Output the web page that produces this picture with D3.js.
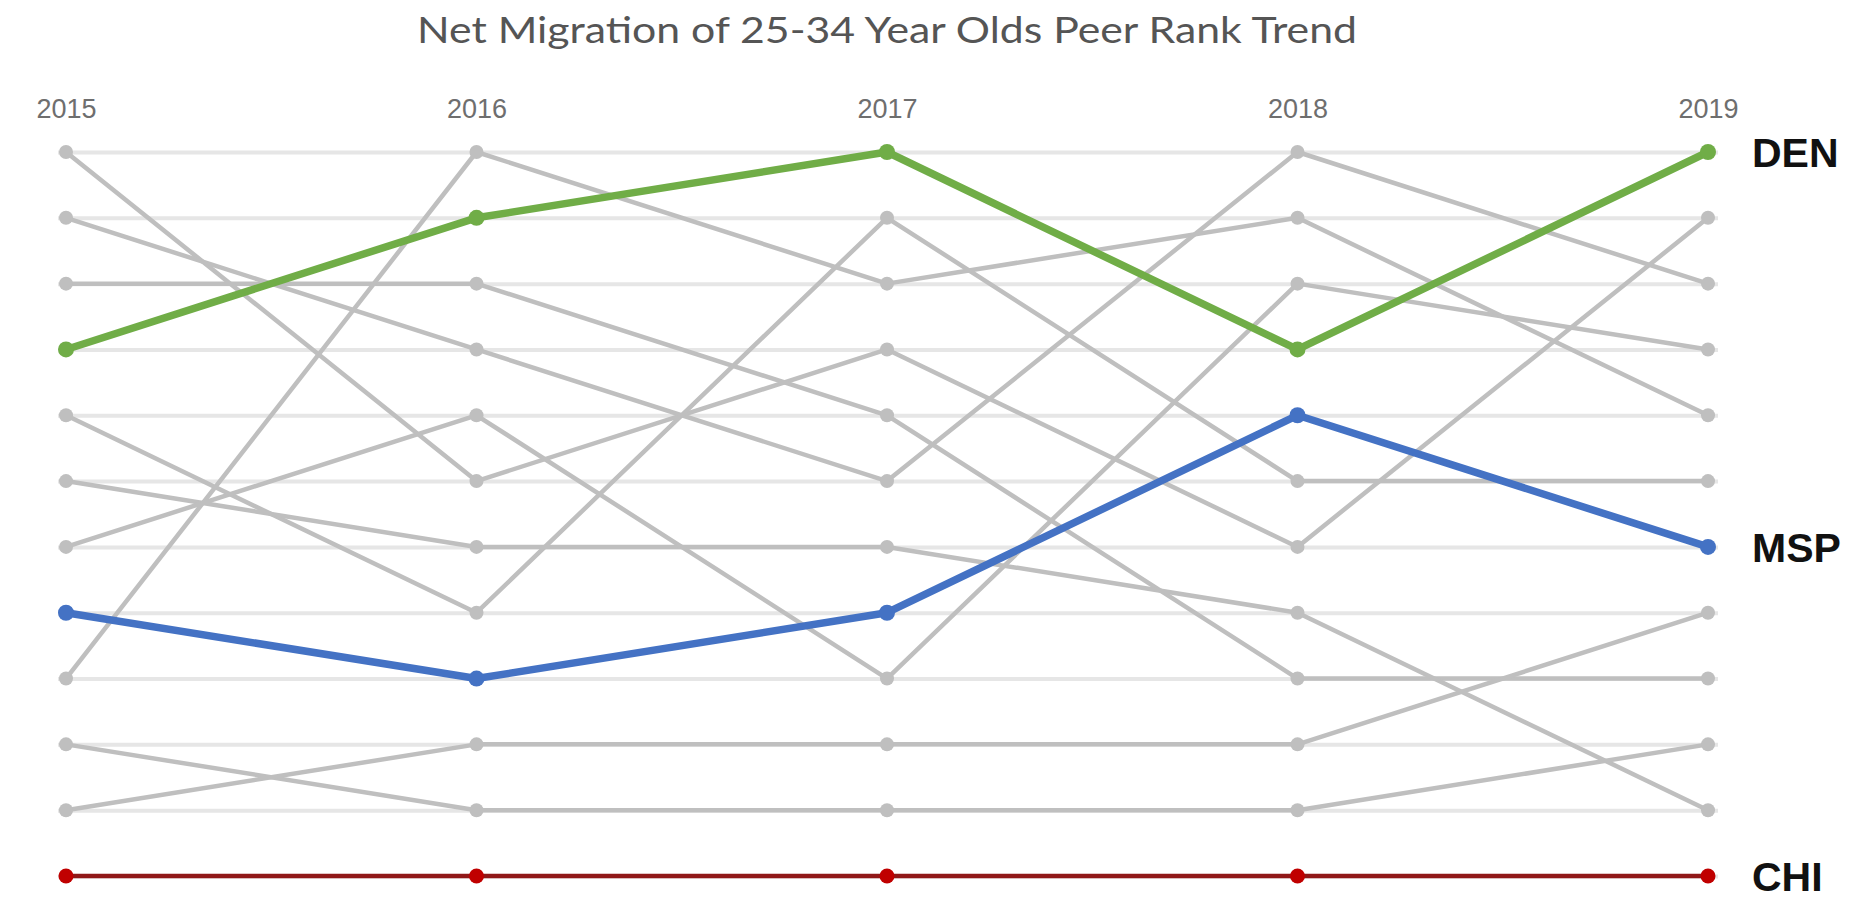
<!DOCTYPE html>
<html>
<head>
<meta charset="utf-8">
<script src="https://cdn.jsdelivr.net/npm/d3@7"></script>
<style>
  html, body { margin: 0; padding: 0; background: #ffffff; }
  svg { display: block; }
</style>
</head>
<body>
<svg id="chart" width="1852" height="911"></svg>
<script>
// Peer rank (1 = best) of net migration of 25-34 year olds, by year
const years = ["2015", "2016", "2017", "2018", "2019"];
const rankCount = 12;

const denRanks = [4, 2, 1, 4, 1];
const mspRanks = [8, 9, 8, 5, 7];
const chiRanks = [12, 12, 12, 12, 12];

// Other peer metros, shown in grey
const peerA = [1, 6, 4, 7, 2];
const peerB = [2, 4, 6, 1, 3];
const peerC = [3, 3, 5, 9, 9];
const peerD = [5, 8, 2, 6, 6];
const peerE = [6, 7, 7, 8, 11];
const peerF = [7, 5, 9, 3, 4];
const peerG = [9, 1, 3, 2, 5];
const peerH = [10, 11, 11, 11, 10];
const peerI = [11, 10, 10, 10, 8];

const titleText = "Net Migration of 25-34 Year Olds Peer Rank Trend";

const greyPeers = [peerA, peerB, peerC, peerD, peerE, peerF, peerG, peerH, peerI];
const highlighted = [
  { name: "CHI", ranks: chiRanks, line: "#901818", dot: "#c00000", width: 4.5, r: 7.5 },
  { name: "MSP", ranks: mspRanks, line: "#4472c4", dot: "#4472c4", width: 7.5, r: 8 },
  { name: "DEN", ranks: denRanks, line: "#70ad47", dot: "#70ad47", width: 7.5, r: 8 }
];

const svg = d3.select("#chart");

const x = d3.scalePoint().domain(years).range([66, 1708]);
const y = d3.scaleLinear().domain([1, rankCount]).range([152, 876]);

// Horizontal gridlines, one per rank
const gridLeft = x(years[0]) - 8;
const gridRight = x(years[years.length - 1]) + 10;
const grid = svg.append("g")
  .attr("transform", `translate(${gridLeft},0)`)
  .call(d3.axisLeft(y)
    .tickValues(d3.range(1, rankCount + 1))
    .tickSize(-(gridRight - gridLeft))
    .tickFormat(""));
grid.select(".domain").remove();
grid.selectAll(".tick line")
  .attr("stroke", "#e6e6e6")
  .attr("stroke-width", 4);

// Year labels along the top
const xAxis = svg.append("g")
  .attr("transform", "translate(0,118)")
  .call(d3.axisTop(x).tickSize(0).tickPadding(0));
xAxis.select(".domain").remove();
xAxis.selectAll("text")
  .attr("font-family", "'Liberation Sans', Arial, sans-serif")
  .attr("font-size", 27)
  .attr("fill", "#6e6e6e");

// Title
svg.append("text")
  .attr("x", (x(years[0]) + x(years[years.length - 1])) / 2)
  .attr("y", 43)
  .attr("text-anchor", "middle")
  .attr("font-family", "Lato, 'Liberation Sans', sans-serif")
  .attr("font-size", 36)
  .attr("fill", "#555555")
  .attr("textLength", 940)
  .attr("lengthAdjust", "spacingAndGlyphs")
  .text(titleText);

const line = d3.line()
  .x((d, i) => x(years[i]))
  .y(d => y(d));

// Grey peer series
const peers = svg.append("g");
greyPeers.forEach(ranks => {
  const g = peers.append("g");
  g.append("path")
    .datum(ranks)
    .attr("d", line)
    .attr("fill", "none")
    .attr("stroke", "#bfbfbf")
    .attr("stroke-width", 4.5)
    .attr("stroke-linejoin", "round");
  g.selectAll("circle")
    .data(ranks)
    .join("circle")
    .attr("cx", (d, i) => x(years[i]))
    .attr("cy", d => y(d))
    .attr("r", 7)
    .attr("fill", "#bfbfbf");
});

// Highlighted metros
highlighted.forEach(s => {
  const g = svg.append("g");
  g.append("path")
    .datum(s.ranks)
    .attr("d", line)
    .attr("fill", "none")
    .attr("stroke", s.line)
    .attr("stroke-width", s.width)
    .attr("stroke-linejoin", "round");
  g.selectAll("circle")
    .data(s.ranks)
    .join("circle")
    .attr("cx", (d, i) => x(years[i]))
    .attr("cy", d => y(d))
    .attr("r", s.r)
    .attr("fill", s.dot);
  g.append("text")
    .attr("x", x(years[years.length - 1]) + 44)
    .attr("y", y(s.ranks[s.ranks.length - 1]))
    .attr("dy", "0.36em")
    .attr("font-family", "'Liberation Sans', Arial, sans-serif")
    .attr("font-weight", "bold")
    .attr("font-size", 41)
    .attr("fill", "#111111")
    .text(s.name);
});
</script>
</body>
</html>
